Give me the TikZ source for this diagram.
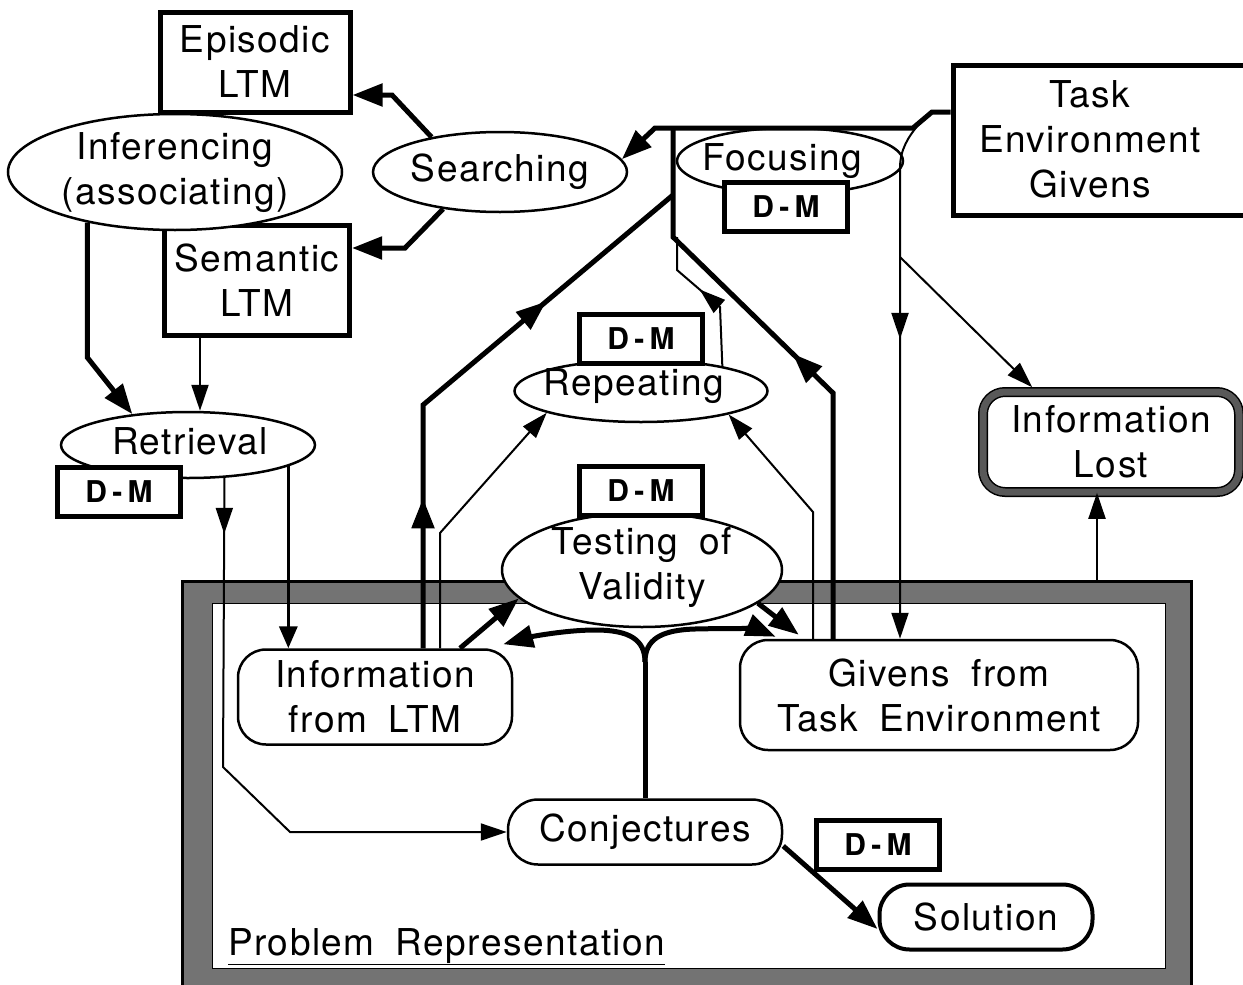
\documentclass[tikz,border=0pt]{standalone}
\usepackage{fontspec}
\setmainfont{TeX Gyre Heros}[LetterSpace=4, WordSpace=1.8]
\newfontfamily\dmfont{TeX Gyre Heros}[LetterSpace=18]
\usetikzlibrary{arrows.meta,shapes.geometric,decorations.markings}

\tikzset{
  thicktip/.tip={Triangle[length=30pt,width=22pt]},
  thintip/.tip={Triangle[length=26pt,width=17pt]},
  thickline/.style={line width=5pt},
  thinline/.style={line width=2pt},
  thickarrow/.style={line width=5pt, -thicktip},
  thinarrow/.style={line width=2pt, -thintip},
  medarrow/.style={line width=3.5pt, -{Triangle[length=22pt,width=18pt]}},
  midthick/.style={postaction={decorate, decoration={markings, mark=at position #1 with {\arrow{thicktip}}}}},
  midthin/.style={postaction={decorate, decoration={markings, mark=at position #1 with {\arrow{thintip}}}}},
  box/.style={draw, line width=5pt, fill=white, align=center, inner sep=2pt},
  dmbox/.style={draw, line width=5pt, fill=white, minimum width=123pt, minimum height=49pt,
    inner sep=0pt, font=\dmfont\bfseries\fontsize{30}{36}\selectfont},
  oval/.style={ellipse, draw, line width=2.5pt, fill=white, inner sep=0pt},
  roundbox/.style={draw, rounded corners=28pt, line width=2.5pt, fill=white, align=center, inner sep=2pt},
  txt/.style={align=center, inner sep=0pt},
}

\begin{document}
\begin{tikzpicture}[x=1pt, y=-1pt, font=\fontsize{37}{45}\selectfont]
  \useasboundingbox (0,0) rectangle (1243,985);
  % Problem Representation frame
  \node[minimum width=1008pt, minimum height=410pt, inner sep=0pt] (prob) at (687,787) {};
  \fill[black!55, even odd rule] (prob.north west) rectangle (prob.south east)
    ([xshift=30pt,yshift=-22pt]prob.north west) rectangle ([xshift=-26pt,yshift=24pt]prob.south east);
  \draw[line width=3pt] (prob.north west) rectangle (prob.south east);
  \draw[line width=1.2pt] ([xshift=30pt,yshift=-22pt]prob.north west) rectangle ([xshift=-26pt,yshift=24pt]prob.south east);
  \node[anchor=base west, inner sep=0pt] (probtxt) at (228,955) {\underline{Problem Representation}};

  % long term memory and searching
  \node[box, minimum width=190pt, minimum height=100pt] (epi) at (255,62) {Episodic\\LTM};
  \node[box, minimum width=185pt, minimum height=110pt] (sem) at (257,280) {Semantic\\LTM};
  \node[oval, minimum width=334pt, minimum height=116pt] (infer) at (175,172) {};
  \node[txt] (infer-t) at (infer) {Inferencing\\(associating)};
  \node[oval, minimum width=254pt, minimum height=80pt] (search) at (500,172) {};
  \node[txt] (search-t) at (search) {Searching};

  % focusing and task environment
  \node[oval, minimum width=226pt, minimum height=66pt] (focus) at (790,161) {};
  \node[txt] (focus-t) at (782,161) {Focusing};
  \node[dmbox] (dm-focus) at (786,207) {D-M};
  \node[box, minimum width=300pt, minimum height=150pt] (task) at (1103,140) {};
  \node[txt] (task-t) at (1090,139) {Task\\Environment\\Givens};

  % retrieval
  \node[oval, minimum width=254pt, minimum height=66pt] (retr) at (188,445) {};
  \node[txt] (retr-t) at (190,441) {Retrieval};
  \node[dmbox] (dm-retr) at (119,492) {D-M};

  % repeating and testing
  \node[oval, minimum width=253pt, minimum height=62pt] (rep) at (641,391) {};
  \node[txt] (rep-t) at (634,386) {Repeating};
  \node[dmbox] (dm-rep) at (641,339) {D-M};
  \node[oval, minimum width=280pt, minimum height=114pt] (test) at (642,570) {};
  \node[txt] (test-t) at (642,567) {Testing of\\Validity};
  \node[dmbox] (dm-test) at (641,491) {D-M};

  % information lost
  \node[draw, double=black!65, double distance=7pt, line width=1.5pt, rounded corners=22pt,
    fill=white, minimum width=256pt, minimum height=100pt, align=center] (lost) at (1111,442) {Information\\Lost};

  % inside the representation
  \node[roundbox, minimum width=274pt, minimum height=95pt] (info) at (375,697) {Information\\from LTM};
  \node[roundbox, minimum width=398pt, minimum height=110pt] (gv) at (939,695) {Givens from\\Task Environment};
  \node[roundbox, minimum width=274pt, minimum height=65pt, rounded corners=30pt] (conj) at (645,832) {Conjectures};
  \node[roundbox, line width=4pt, minimum width=213pt, minimum height=65pt, rounded corners=30pt] (sol) at (986,917) {Solution};
  \node[dmbox] (dm-sol) at (878,845) {D-M};

  % searching to the stores
  \coordinate (s1) at (392,95);
  \coordinate (s2) at (405,248);
  \draw[thickarrow] (search.153) -- (s1) -- (s1 -| epi.east);
  \draw[thickarrow] (search.213) -- (s2) -- (s2 -| sem.east);

  % task givens back to searching
  \coordinate (t1) at (932,112);
  \coordinate (t2) at (913,128);
  \coordinate (t3) at (655,128);
  \draw[thickarrow] ([yshift=28pt]task.west) -- (t1) -- (t2) -- (t3) -- (search.6);

  % givens up to searching
  \coordinate (g1) at (833,393);
  \coordinate (g3) at (673,237);
  \coordinate (g4) at (673,128);
  \draw[thickline, midthick=302pt] (gv.north -| g1) -- (g1) -- (g3) -- (g4);

  % information from LTM up to searching
  \coordinate (i1) at (423,405);
  \coordinate (i2) at (673,195);
  \draw[thickline, midthick=150pt, midthick=404pt] (info.north -| i1) -- (i1) -- (i2);

  % repeating
  \coordinate (r1) at (720,307);
  \coordinate (r2) at (677,270);
  \coordinate (r3) at (677,237);
  \draw[thinline, midthin=86pt] (rep.17) -- (r1) -- (r2) -- (r3);
  \coordinate (i5) at (440,533);
  \draw[thinarrow] (info.north -| i5) -- (i5) -- (rep.193);
  \coordinate (g5) at (813,512);
  \draw[thinarrow] (gv.north -| g5) -- (g5) -- (rep.345);

  % task givens down to givens and lost
  \coordinate (f1) at (919,124);
  \coordinate (f2) at (900,168);
  \coordinate (f4) at (900,257);
  \draw[thinarrow, midthin=220pt] (f1) .. controls (908,137) and (900,150) .. (f2) -- (gv.north -| f2);
  \draw[thinarrow] (f4) -- ([xshift=50pt,yshift=4pt]lost.north west);
  \coordinate (l1) at ([xshift=-14pt]lost.south);
  \draw[thinarrow] (l1 |- prob.north) -- (l1);

  % retrieval
  \draw[thickarrow] (infer.210) -- ++(0,135) -- (retr.151);
  \draw[thinarrow] ([xshift=-57pt]sem.south) -- ([xshift=12pt]retr.north);
  \coordinate (c2) at (223,767);
  \coordinate (c3) at (290,832);
  \draw[thinarrow, midthin=56pt] (retr.318) -- (c2) -- (c3) -- (conj.west);
  \draw[medarrow] (retr.348) -- (retr.348 |- info.north);

  % testing of validity
  \draw[thickarrow] ([xshift=85pt]info.north) -- (test.193);
  \draw[thickarrow] (test.344) -- ([xshift=60pt,yshift=4pt]gv.north west);
  \coordinate (fork) at (645,662);
  \draw[thickline] (conj.north) -- (fork);
  \draw[thickarrow] (fork) .. controls (645,640) and (630,630) .. (595,630)
    .. controls (565,630) and (530,637) .. ([xshift=-10pt,yshift=4pt]info.north east);
  \draw[thickarrow] (fork) .. controls (645,640) and (660,630) .. (695,629)
    .. controls (730,628) and (760,630) .. ([xshift=37pt,yshift=2pt]gv.north west);

  % solution
  \draw[thickarrow] ([yshift=-14pt]conj.east) -- ([yshift=-12pt]sol.west);
\end{tikzpicture}
\end{document}
